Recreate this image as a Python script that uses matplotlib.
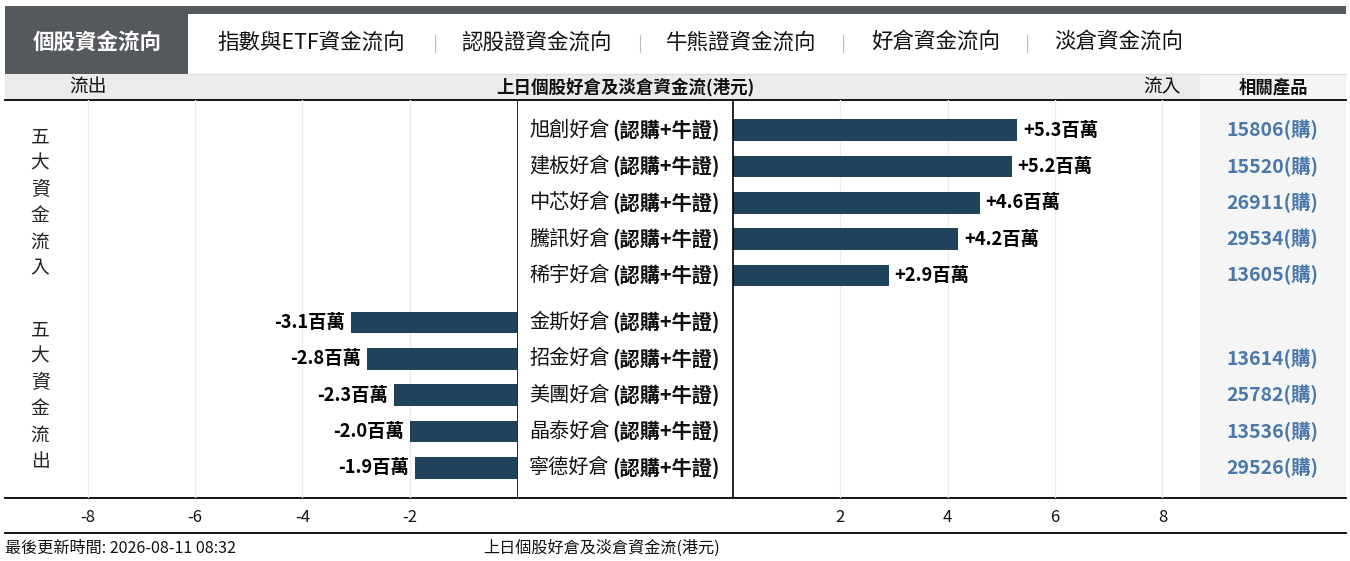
import matplotlib
matplotlib.use("Agg")
import matplotlib.pyplot as plt
from matplotlib.patches import Rectangle

plt.rcParams['font.family'] = ['Noto Sans CJK TC', 'DejaVu Sans']

# --- data ---
in_names   = ["旭創好倉", "建板好倉", "中芯好倉", "騰訊好倉", "稀宇好倉"]
in_values  = [5.3, 5.2, 4.6, 4.2, 2.9]
in_codes   = ["15806(購)", "15520(購)", "26911(購)", "29534(購)", "13605(購)"]

out_names  = ["金斯好倉", "招金好倉", "美團好倉", "晶泰好倉", "寧德好倉"]
out_values = [-3.1, -2.8, -2.3, -2.0, -1.9]
out_codes  = ["", "13614(購)", "25782(購)", "13536(購)", "29526(購)"]

tabs = ["個股資金流向", "指數與ETF資金流向", "認股證資金流向",
        "牛熊證資金流向", "好倉資金流向", "淡倉資金流向"]
left_ticks  = [-8, -6, -4, -2]
right_ticks = [2, 4, 6, 8]
product_tag = "(認購+牛證)"
title_txt   = "上日個股好倉及淡倉資金流(港元)"
update_txt  = "最後更新時間: 2026-08-11 08:32"

W, H = 1350, 561
BAR_COLOR  = '#1f435b'
CODE_COLOR = '#4a78a8'
DARK       = '#55595d'

fig = plt.figure(figsize=(W / 100, H / 100), dpi=100)

# background axes in pixel coordinates for the page furniture
bg = fig.add_axes([0, 0, 1, 1])
bg.set_xlim(0, W)
bg.set_ylim(H, 0)
bg.axis('off')

# top stripe + tabs
bg.add_patch(Rectangle((5, 6), 1341, 8, color=DARK, lw=0))
bg.add_patch(Rectangle((5, 6), 183, 68, color=DARK, lw=0))
bg.plot([188, 1346], [74, 74], color='#dddddd', lw=1)
tab_x = [97, 311, 536, 741, 936, 1119]
for i, (t, x) in enumerate(zip(tabs, tab_x)):
    if i == 0:
        bg.text(x, 43, t, color='white', fontsize=15.5, fontweight='bold',
                ha='center', va='center')
    else:
        bg.text(x, 43, t, color='#111111', fontsize=15.5, fontweight='medium',
                ha='center', va='center')
for x in [435, 640, 843, 1027]:
    bg.plot([x, x], [35, 52], color='#bbbbbb', lw=0.8)

# header row
bg.add_patch(Rectangle((5, 74), 1195, 26, color='#ebebeb', lw=0))
bg.add_patch(Rectangle((1200, 74), 146, 26, color='#f5f5f5', lw=0))
bg.text(88, 87, "流出", fontsize=13.5, ha='center', va='center', color='#111111')
bg.text(625, 87, title_txt, fontsize=12.6, fontweight='bold', ha='center',
        va='center', color='#111111')
bg.text(1162, 87, "流入", fontsize=13.5, ha='center', va='center', color='#111111')
bg.text(1273, 87, "相關產品", fontsize=12.5, fontweight='bold', ha='center',
        va='center', color='#111111')

# product column background
bg.add_patch(Rectangle((1200, 100), 146, 398, color='#f5f5f5', lw=0))

# horizontal rules
bg.plot([5, 1346], [100, 100], color='black', lw=1.3)
bg.plot([5, 1346], [498, 498], color='black', lw=1.3)
bg.plot([5, 1346], [533, 533], color='black', lw=1.3)

# vertical group labels
for j, ch in enumerate("五大資金流入"):
    bg.text(40, 137 + j * 26.2, ch, fontsize=13.5, ha='center', va='center', color='#222222')
for j, ch in enumerate("五大資金流出"):
    bg.text(40, 330 + j * 26.2, ch, fontsize=13.5, ha='center', va='center', color='#222222')

# footer
bg.text(5, 548, update_txt, fontsize=11.6, ha='left', va='center', color='#111111')
bg.text(602, 548, title_txt, fontsize=11.6, ha='center', va='center', color='#111111')

# row positions (in row units)
in_pos  = [0, 1, 2, 3, 4]
out_pos = [5.3 + i for i in range(5)]
ylim = (10.13, -0.83)


def px_box(x0, x1):
    return [x0 / W, (H - 498) / H, (x1 - x0) / W, 398 / H]


def style_axis(ax, ticks):
    ax.set_ylim(*ylim)
    ax.set_yticks([])
    ax.set_xticks(ticks)
    ax.set_xticklabels([str(t) for t in ticks])
    ax.tick_params(axis='x', length=0, pad=8, labelsize=12, labelcolor='#111111')
    ax.grid(axis='x', color='#ececec', lw=1)
    ax.set_axisbelow(True)
    for s in ax.spines.values():
        s.set_visible(False)
    ax.patch.set_alpha(0)


# left (outflow) axis
axl = fig.add_axes(px_box(5, 517))
axl.set_xlim(-9.54, 0)
style_axis(axl, left_ticks)
axl.barh(out_pos, out_values, height=0.6, color=BAR_COLOR)
for p, v in zip(out_pos, out_values):
    axl.annotate(f"{v:.1f}百萬", (v, p), xytext=(-4, 0), textcoords='offset points',
                 ha='right', va='center', fontsize=13.2, fontweight='bold')

# right (inflow) axis
axr = fig.add_axes(px_box(733, 1200))
axr.set_xlim(0, 8.7)
style_axis(axr, right_ticks)
axr.barh(in_pos, in_values, height=0.6, color=BAR_COLOR)
for p, v in zip(in_pos, in_values):
    axr.annotate(f"+{v:.1f}百萬", (v, p), xytext=(4, 0), textcoords='offset points',
                 ha='left', va='center', fontsize=13.2, fontweight='bold')

# middle label column and product column
axm = fig.add_axes(px_box(517, 1346))
axm.set_xlim(517, 1346)
axm.set_ylim(*ylim)
axm.axis('off')
axm.patch.set_alpha(0)
axm.plot([517, 517], ylim, color='black', lw=1.2)
axm.plot([733, 733], ylim, color='black', lw=1.2)
for names, pos, codes in [(in_names, in_pos, in_codes), (out_names, out_pos, out_codes)]:
    for n, p, c in zip(names, pos, codes):
        axm.text(529, p, n, fontsize=14.5, ha='left', va='center', color='#111111')
        axm.text(720, p, product_tag, fontsize=14.5, fontweight='bold', ha='right',
                 va='center', color='#111111')
        if c:
            axm.text(1318, p, c, fontsize=14, fontweight='bold', ha='right',
                     va='center', color=CODE_COLOR)

fig.savefig("out.png", dpi=100)
